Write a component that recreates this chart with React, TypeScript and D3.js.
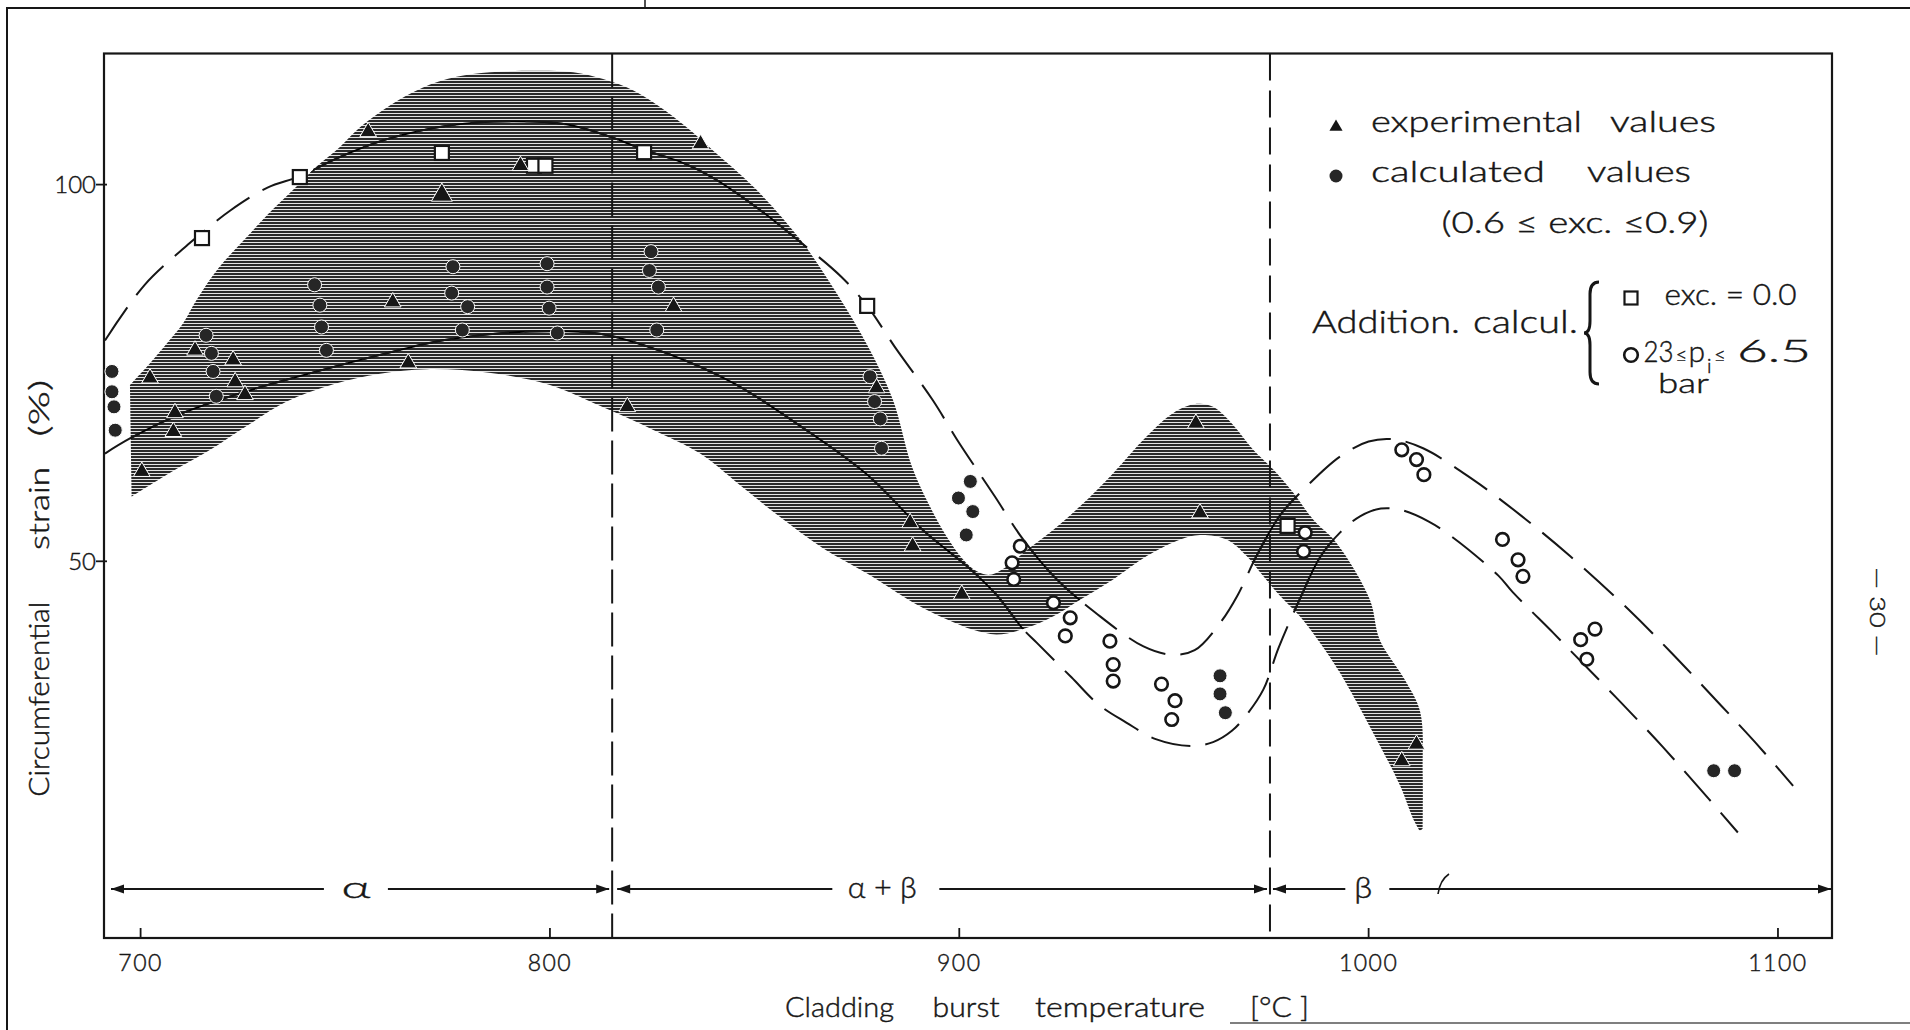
import React from "react";
import * as d3 from "d3";

type Pt = [number, number];

// ---- axes ----
const tempDomain: Pt = [691.06, 1113.2]; // °C across the frame
const strainDomain: Pt = [0, 117.4]; // % across the frame
const xTickValues = [700, 800, 900, 1000, 1100];
const yTickValues = [50, 100];
const phaseBoundaries = [815.2, 975.9]; // alpha / alpha+beta / beta transitions (°C)

// ---- scatter band of experimental results (upper and lower edge) ----
const bandUpper: Pt[] = [
  [697.4, 73.4], [702.3, 76.3], [706.4, 78.9], [710.4, 81.6], [713.7, 84.7],
  [719.0, 88.9], [725.2, 92.6], [731.0, 96.0], [737.1, 99.2], [743.0, 102.4],
  [748.7, 105.0], [753.6, 107.6], [760.9, 110.5], [769.0, 112.9], [777.2, 114.3],
  [785.4, 114.9], [797.6, 115.1], [805.7, 114.9], [813.0, 114.0], [820.4, 112.5],
  [826.9, 110.3], [833.4, 107.6], [839.9, 104.5], [850.3, 99.4], [861.3, 92.6],
  [870.0, 85.6], [877.7, 78.5], [883.8, 71.4], [888.4, 62.6], [892.8, 57.3],
  [896.9, 53.3], [901.0, 50.2], [904.2, 48.7], [907.5, 48.2], [911.6, 49.3],
  [916.5, 51.5], [923.0, 54.2], [929.5, 57.3], [937.6, 61.7], [945.8, 66.6],
  [952.3, 69.7], [958.0, 70.9], [962.0, 70.5], [966.9, 68.1], [971.8, 64.8],
  [976.3, 62.4], [981.6, 59.1], [986.5, 55.5], [992.2, 52.4], [1000.3, 44.9],
  [1002.7, 39.6], [1008.8, 34.3], [1012.6, 30.0], [1013.2, 22.0], [1013.2, 14.5],
];
const bandLower: Pt[] = [
  [697.8, 58.6], [707.0, 61.7], [717.0, 64.8], [726.0, 68.0], [735.7, 71.2],
  [747.1, 73.5], [758.5, 74.9], [770.0, 75.5], [785.6, 75.0], [800.0, 73.4],
  [814.0, 70.2], [825.0, 67.5], [836.7, 64.3], [846.0, 60.3], [855.9, 56.0],
  [866.5, 51.8], [877.7, 48.3], [888.8, 44.5], [896.9, 42.3], [903.4, 40.9],
  [909.1, 40.3], [915.6, 41.0], [923.0, 42.7], [929.5, 44.9], [937.6, 47.6],
  [945.8, 50.7], [954.0, 52.9], [958.8, 53.5], [965.3, 52.9], [970.2, 50.7],
  [974.3, 48.0], [978.4, 45.4], [983.2, 42.7], [988.1, 39.2], [993.0, 35.2],
  [1002.8, 25.5], [1007.7, 20.2], [1010.9, 15.8], [1012.5, 14.2],
];

// ---- dashed trend curves ----
const trendUpper: Pt[] = [
  [691.3, 79.3], [701.0, 86.7], [711.5, 92.0], [715.0, 93.6], [722.0, 96.6],
  [731.0, 99.6], [738.9, 101.1], [748.0, 103.5], [760.0, 106.0], [776.0, 107.9],
  [790.0, 108.4], [804.0, 108.0], [815.0, 106.3], [823.0, 104.6], [832.0, 103.0],
  [839.5, 101.0], [850.4, 97.0], [860.2, 92.8], [871.1, 87.8], [877.5, 83.9],
  [884.2, 78.5], [893.5, 71.4], [899.5, 66.1], [904.5, 62.0], [908.7, 58.6],
  [915.6, 52.9], [924.0, 47.5], [933.2, 43.2], [945.0, 38.7], [952.0, 37.6],
  [957.5, 38.2], [963.7, 41.8], [968.0, 45.5], [972.6, 50.7], [978.5, 56.2],
  [984.6, 59.8], [993.0, 63.9], [1000.0, 65.9], [1006.0, 66.2], [1013.3, 65.0],
  [1025.6, 60.8], [1037.4, 56.0], [1049.2, 50.7], [1063.5, 43.6], [1073.9, 37.9],
  [1086.2, 30.8], [1094.4, 26.0], [1103.7, 20.2],
];
const trendLower: Pt[] = [
  [691.3, 64.3], [697.4, 66.3], [710.4, 69.7], [724.3, 72.3], [735.7, 74.1],
  [758.5, 77.4], [774.6, 79.4], [795.0, 80.5], [812.3, 80.2], [828.6, 77.6],
  [845.0, 73.6], [861.3, 67.9], [877.7, 61.4], [891.0, 54.2], [902.6, 49.0],
  [909.0, 45.6], [915.6, 41.0], [918.9, 39.2], [927.4, 34.6], [934.0, 31.0],
  [940.8, 28.6], [948.0, 26.4], [956.5, 25.5], [962.0, 26.0], [966.6, 27.5],
  [970.0, 29.5], [974.3, 33.0], [978.0, 38.5], [983.2, 45.0], [988.1, 50.5],
  [993.0, 53.8], [998.0, 56.0], [1003.0, 57.0], [1008.0, 56.8], [1014.6, 55.3],
  [1020.5, 53.2], [1031.7, 48.1], [1035.2, 45.9], [1045.1, 40.5], [1049.2, 38.2],
  [1060.5, 31.9], [1071.8, 25.4], [1083.2, 18.4], [1090.2, 14.0],
];

// ---- data points: [temperature °C, strain %] ----
const experimental: Pt[] = [
  [700.3, 61.9], [702.3, 74.3], [708.4, 69.7], [708.0, 67.2], [713.3, 78.0],
  [722.6, 76.7], [723.1, 73.8], [725.5, 72.1], [755.6, 107.0], [761.6, 84.4],
  [765.4, 76.3], [792.8, 102.5], [818.9, 70.5], [830.2, 83.8], [836.8, 105.4],
  [879.8, 73.0], [888.0, 55.1], [888.6, 52.0], [900.6, 45.6], [957.8, 68.3],
  [958.8, 56.4], [1011.7, 25.7], [1008.1, 23.5],
];
const experimentalLarge: Pt[] = [[773.6, 98.6]];
const calculated: Pt[] = [
  [693.0, 75.2], [693.0, 72.5], [693.5, 70.5], [693.8, 67.4],
  [716.0, 80.0], [717.3, 77.6], [717.7, 75.2], [718.5, 71.9],
  [742.5, 86.7], [743.8, 84.0], [744.2, 81.1], [745.4, 78.0],
  [776.3, 89.1], [776.0, 85.6], [779.9, 83.8], [778.6, 80.7],
  [799.3, 89.5], [799.3, 86.4], [799.8, 83.6], [801.8, 80.3],
  [824.7, 91.1], [824.3, 88.6], [826.5, 86.4], [826.1, 80.7],
  [878.2, 74.5], [879.3, 71.2], [880.7, 68.9], [881.0, 65.0],
  [902.7, 60.6], [899.8, 58.4], [903.3, 56.6], [901.7, 53.5],
  [963.7, 34.8], [963.7, 32.4], [965.0, 29.9],
  [1084.3, 22.2], [1089.4, 22.2],
];
const additionalExc0: Pt[] = [
  [715.0, 92.9], [738.9, 101.0], [773.6, 104.2], [796.1, 102.5], [798.9, 102.5],
  [823.0, 104.3], [877.5, 83.9], [980.2, 54.7],
];
const additionalPressure: Pt[] = [
  [914.9, 52.0], [912.9, 49.8], [913.3, 47.6],
  [923.0, 44.5], [927.1, 42.5], [925.9, 40.1],
  [936.8, 39.4], [937.6, 36.3], [937.6, 34.1],
  [949.4, 33.7], [952.7, 31.5], [951.9, 29.0],
  [984.5, 53.8], [984.1, 51.3],
  [1008.1, 64.8], [1011.7, 63.5], [1013.5, 61.5],
  [1032.7, 52.9], [1036.5, 50.2], [1037.7, 48.0],
  [1055.3, 41.0], [1051.8, 39.6], [1053.3, 37.0],
];

// ---- phase regions along the bottom of the plot ----
const phaseLabels = ["\u03b1", "\u03b1 + \u03b2", "\u03b2"];
const phaseLabelTemps = [752.6, 881.2, 998.7];

const FONT = "Lato, 'Open Sans', 'DejaVu Sans', sans-serif";
const INK = "#161616";

export default function App() {
  const W = 1910;
  const H = 1030;
  const frame = { left: 104, right: 1832, top: 53.5, bottom: 938 };

  const x = d3.scaleLinear().domain(tempDomain).range([frame.left, frame.right]);
  const y = d3.scaleLinear().domain(strainDomain).range([frame.bottom, frame.top]);

  const smooth = d3
    .line<Pt>()
    .x((d) => x(d[0]))
    .y((d) => y(d[1]))
    .curve(d3.curveCatmullRom.alpha(0.5));

  const upperPath = smooth(bandUpper) as string;
  const lowerPath = smooth([...bandLower].reverse()) as string;
  const bandPath = upperPath + "L" + lowerPath.slice(1) + "Z";
  const trendUpperPath = smooth(trendUpper) as string;
  const trendLowerPath = smooth(trendLower) as string;

  const tri = d3.symbol().type(d3.symbolTriangle).size(120)() as string;
  const triBig = d3.symbol().type(d3.symbolTriangle).size(190)() as string;
  const triLegend = d3.symbol().type(d3.symbolTriangle).size(75)() as string;

  // phase annotation line
  const phaseY = 889;
  const b1 = x(phaseBoundaries[0]);
  const b2 = x(phaseBoundaries[1]);
  const gaps: Pt[] = [[-32, 32], [-50, 57], [-18, 26]];
  const spans: Pt[] = [
    [frame.left + 7, b1 - 3],
    [b1 + 5, b2 - 3],
    [b2 + 3, frame.right - 1],
  ];
  const arrow = (tipX: number, dir: number) =>
    `M${tipX},${phaseY} L${tipX - dir * 13},${phaseY - 4.5} L${tipX - dir * 13},${phaseY + 4.5} Z`;

  return (
    <svg
      width={W}
      height={H}
      viewBox={`0 0 ${W} ${H}`}
      style={{ position: "absolute", left: 0, top: 0, background: "#fff" }}
      fontFamily={FONT}
      fontWeight={300}
    >
      <defs>
        <pattern id="hatch" width="12" height="3" patternUnits="userSpaceOnUse">
          <rect width="12" height="3" fill="#e4e4e4" />
          <rect width="12" height="2" fill="#2a2a2a" />
        </pattern>
        <clipPath id="bandClip">
          <path d={bandPath} />
        </clipPath>
      </defs>
      <rect width={W} height={H} fill="#fff" />

      {/* page edges */}
      <line x1={6} y1={8} x2={W} y2={8} stroke={INK} strokeWidth={2} />
      <line x1={7} y1={8} x2={7} y2={H} stroke={INK} strokeWidth={2} />
      <line x1={645} y1={0} x2={645} y2={8} stroke={INK} strokeWidth={1.5} />
      <line x1={1230} y1={1023} x2={W} y2={1023} stroke="#555" strokeWidth={1.5} />

      {/* scatter band */}
      <path d={bandPath} fill="url(#hatch)" />

      {/* phase boundaries */}
      {phaseBoundaries.map((t, i) => (
        <line
          key={`pb${i}`}
          x1={x(t)}
          x2={x(t)}
          y1={frame.top}
          y2={frame.bottom}
          stroke={INK}
          strokeWidth={2}
          strokeDasharray={i === 0 ? "34 9" : "27 10"}
        />
      ))}

      {/* trend curves: solid through the band, dashed outside */}
      <g clipPath="url(#bandClip)">
        <path d={trendUpperPath} fill="none" stroke="#000" strokeWidth={1.8} />
        <path d={trendLowerPath} fill="none" stroke="#000" strokeWidth={1.8} />
      </g>
      <path d={trendUpperPath} fill="none" stroke={INK} strokeWidth={2} strokeDasharray="40 15" />
      <path d={trendLowerPath} fill="none" stroke={INK} strokeWidth={2} strokeDasharray="40 15" />

      {/* frame */}
      <rect
        x={frame.left}
        y={frame.top}
        width={frame.right - frame.left}
        height={frame.bottom - frame.top}
        fill="none"
        stroke={INK}
        strokeWidth={2.2}
      />

      <g fill={INK} stroke={INK} strokeWidth={0.45}>
        {/* x ticks */}
        {xTickValues.map((v) => (
          <g key={`xt${v}`}>
            <line x1={x(v)} x2={x(v)} y1={frame.bottom} y2={frame.bottom - 10} strokeWidth={1.8} />
            <text x={x(v)} y={971} textAnchor="middle" fontSize={23} letterSpacing={1.5}>
              {v}
            </text>
          </g>
        ))}

        {/* y ticks */}
        {yTickValues.map((v) => (
          <g key={`yt${v}`}>
            <line x1={frame.left - 8} x2={frame.left + 3} y1={y(v)} y2={y(v)} strokeWidth={1.8} />
            <text x={frame.left - 8} y={y(v) + 8.5} textAnchor="end" fontSize={24}>
              {v}
            </text>
          </g>
        ))}

        {/* axis titles */}
        <g fontSize={28}>
          <text x={785} y={1017} textLength={109} lengthAdjust="spacingAndGlyphs">Cladding</text>
          <text x={932.6} y={1017} textLength={67} lengthAdjust="spacingAndGlyphs">burst</text>
          <text x={1035} y={1017} textLength={170} lengthAdjust="spacingAndGlyphs">temperature</text>
          <text x={1250} y={1017} textLength={59} lengthAdjust="spacingAndGlyphs">[°C ]</text>
        </g>
        <g fontSize={28}>
          <text transform="translate(48.5,796.7) rotate(-90)" textLength={195} lengthAdjust="spacingAndGlyphs">
            Circumferential
          </text>
          <text transform="translate(48.5,550) rotate(-90)" textLength={83} lengthAdjust="spacingAndGlyphs">
            strain
          </text>
          <text transform="translate(48.5,436.7) rotate(-90)" textLength={57} lengthAdjust="spacingAndGlyphs">
            (%)
          </text>
        </g>
      </g>

      {/* phase regions */}
      {spans.map(([a, b], i) => {
        const cx = x(phaseLabelTemps[i]);
        return (
          <g key={`ph${i}`}>
            <line x1={a} x2={cx + gaps[i][0]} y1={phaseY} y2={phaseY} stroke={INK} strokeWidth={2} />
            <line x1={cx + gaps[i][1]} x2={b} y1={phaseY} y2={phaseY} stroke={INK} strokeWidth={2} />
            <path d={arrow(a, -1)} fill={INK} />
            <path d={arrow(b, 1)} fill={INK} />
            <text
              x={cx}
              y={phaseY + 9}
              textAnchor="middle"
              fontSize={30}
              fill={INK}
              stroke={INK}
              strokeWidth={0.45}
              textLength={i === 0 ? 29 : i === 1 ? 69 : 18}
              lengthAdjust="spacingAndGlyphs"
            >
              {phaseLabels[i]}
            </text>
          </g>
        );
      })}
      <path d="M1449,874 Q1440,880 1438,894" fill="none" stroke={INK} strokeWidth={1.6} />

      {/* data points */}
      {additionalExc0.map((d, i) => (
        <rect
          key={`sq${i}`}
          x={x(d[0]) - 7}
          y={y(d[1]) - 7}
          width={14}
          height={14}
          fill="#fff"
          stroke={INK}
          strokeWidth={2.2}
        />
      ))}
      {additionalPressure.map((d, i) => (
        <circle key={`oc${i}`} cx={x(d[0])} cy={y(d[1])} r={6.3} fill="#fff" stroke={INK} strokeWidth={2.6} />
      ))}
      {calculated.map((d, i) => (
        <circle key={`fc${i}`} cx={x(d[0])} cy={y(d[1])} r={7} fill="#262626" stroke="#fff" strokeWidth={1} />
      ))}
      {experimental.map((d, i) => (
        <path
          key={`tr${i}`}
          d={tri}
          transform={`translate(${x(d[0])},${y(d[1])})`}
          fill={INK}
          stroke="#fff"
          strokeWidth={1}
        />
      ))}
      {experimentalLarge.map((d, i) => (
        <path
          key={`trl${i}`}
          d={triBig}
          transform={`translate(${x(d[0])},${y(d[1])})`}
          fill={INK}
          stroke="#fff"
          strokeWidth={1}
        />
      ))}

      {/* legend */}
      <path d={triLegend} transform="translate(1336,127)" fill={INK} />
      <circle cx={1336} cy={176} r={6.5} fill="#262626" />
      <path
        d="M1599,282 Q1590,282 1590,294 L1590,321 Q1590,333 1584,333 Q1590,333 1590,345 L1590,372 Q1590,384 1599,384"
        fill="none"
        stroke={INK}
        strokeWidth={3}
      />
      <rect x={1624.5} y={291.5} width={13} height={13} fill="#fff" stroke={INK} strokeWidth={2.2} />
      <circle cx={1631} cy={355} r={6.8} fill="#fff" stroke={INK} strokeWidth={2.6} />

      <g fontSize={29} fill={INK} stroke={INK} strokeWidth={0.45}>
        <text x={1371} y={132} textLength={211} lengthAdjust="spacingAndGlyphs">experimental</text>
        <text x={1610} y={132} textLength={106} lengthAdjust="spacingAndGlyphs">values</text>

        <text x={1371} y={182} textLength={174} lengthAdjust="spacingAndGlyphs">calculated</text>
        <text x={1587} y={182} textLength={104} lengthAdjust="spacingAndGlyphs">values</text>

        <text x={1441.5} y={233} textLength={267} lengthAdjust="spacingAndGlyphs">
          (0.6 ≤ exc. ≤0.9)
        </text>

        <text x={1312} y={333} fontSize={31} textLength={148} lengthAdjust="spacingAndGlyphs">Addition.</text>
        <text x={1473} y={333} fontSize={31} textLength={105} lengthAdjust="spacingAndGlyphs">calcul.</text>

        <text x={1664.6} y={305} fontSize={30} textLength={132} lengthAdjust="spacingAndGlyphs">
          exc. = 0.0
        </text>

        <text x={1643.5} y={362} fontSize={30} textLength={30} lengthAdjust="spacingAndGlyphs">23</text>
        <text x={1675.5} y={362} fontSize={20}>≤</text>
        <text x={1688.5} y={362} fontSize={30}>p</text>
        <text x={1707} y={373} fontSize={20}>i</text>
        <text x={1714} y={362} fontSize={20}>≤</text>
        <text x={1737} y={362} fontSize={31} textLength={74} lengthAdjust="spacingAndGlyphs">6.5</text>
        <text x={1658} y={393} fontSize={27} textLength={51} lengthAdjust="spacingAndGlyphs">bar</text>
      </g>

      {/* page number */}
      <text
        transform="translate(1870,612) rotate(90)"
        textAnchor="middle"
        fontSize={22}
        fill={INK}
        stroke={INK}
        strokeWidth={0.45}
        textLength={89}
        lengthAdjust="spacingAndGlyphs"
      >
        — 30 —
      </text>
    </svg>
  );
}
